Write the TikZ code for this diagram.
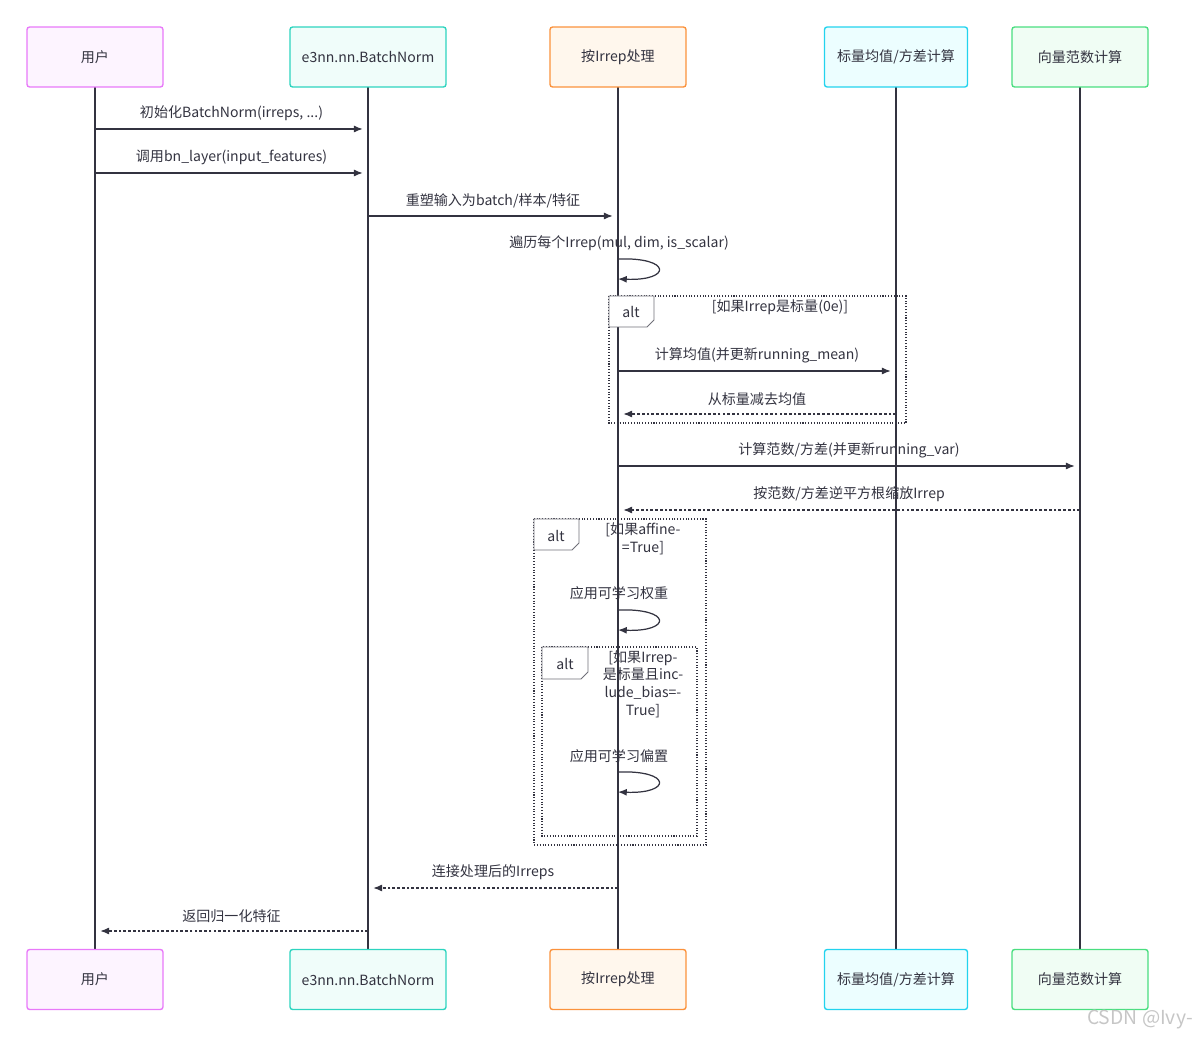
\documentclass[tikz,border=0pt]{standalone}
\usepackage{fontspec}
\setmainfont{Noto Sans CJK SC}
\usetikzlibrary{arrows.meta}
\definecolor{ink}{HTML}{333340}
\definecolor{uB}{HTML}{E879F9}\definecolor{uF}{HTML}{FDF4FF}
\definecolor{bnB}{HTML}{2DD4BF}\definecolor{bnF}{HTML}{F0FDFA}
\definecolor{irB}{HTML}{FB923C}\definecolor{irF}{HTML}{FFF7ED}
\definecolor{scB}{HTML}{22D3EE}\definecolor{scF}{HTML}{ECFEFF}
\definecolor{vcB}{HTML}{4ADE80}\definecolor{vcF}{HTML}{F0FDF4}
\begin{document}
\begin{tikzpicture}[x=0.02cm,y=-0.02cm,font=\fontsize{8}{10}\selectfont,
  actor/.style={draw=#1B,fill=#1F,line width=0.8pt,rounded corners=1.5pt,minimum height=1.2cm,text=ink},
  msg/.style={draw=ink,line width=0.7pt,-{Latex[length=5pt,width=4pt]}},
  reply/.style={msg,dash pattern=on 1.5pt off 1.2pt},
  lbl/.style={text=ink,anchor=base},
  frame/.style={draw=ink,densely dotted,line width=0.6pt},
  tab/.style={draw=ink!70,fill=white,line width=0.5pt}]

    \useasboundingbox (0,0) rectangle (1201,1040);

    % participants
    \foreach \name/\x/\w/\txt in {u/95/136/{用户}, bn/368/156/{e3nn.nn.BatchNorm},
        ir/618/136/{按Irrep处理}, sc/896/143/{标量均值/方差计算}, vc/1080/136/{向量范数计算}} {
      \draw[ink,line width=0.7pt] (\x,87) -- (\x,950);
      \node[actor=\name,minimum width=\w*0.02cm] (\name-top) at (\x,57) {\txt};
      \node[actor=\name,minimum width=\w*0.02cm] (\name-bot) at (\x,979.5) {\txt};
      \coordinate (\name) at (\x,0);
    }

    % frames
    \draw[frame] (609,296) rectangle (906,423);
    \draw[tab] (609,296) -- (654,296) -- (654,320) -- (647,327) -- (609,327) -- cycle;
    \node[text=ink] at (631,312) {alt};
    \node[text=ink] at (780,307) {[如果Irrep是标量(0e)]};

    \draw[frame] (534,519) rectangle (706,845);
    \draw[tab] (534,519) -- (579,519) -- (579,543) -- (572,550) -- (534,550) -- cycle;
    \node[text=ink] at (556,536) {alt};
    \node[text=ink,align=center] at (643,539) {[如果affine-\\=True]};

    \draw[frame] (542,647) rectangle (697,836);
    \draw[tab] (542,647) -- (588,647) -- (588,672) -- (581,679) -- (542,679) -- cycle;
    \node[text=ink] at (565,664) {alt};
    \node[text=ink,align=center] at (643,684) {[如果Irrep-\\是标量且inc-\\lude\_bias=-\\True]};

    % messages
    \foreach \a/\b/\y/\st/\txt in {u/bn/129/msg/{初始化BatchNorm(irreps, ...)},
        u/bn/173/msg/{调用bn\_layer(input\_features)},
        bn/ir/216/msg/{重塑输入为batch/样本/特征},
        ir/sc/371/msg/{计算均值(并更新running\_mean)},
        sc/ir/414/reply/{从标量减去均值},
        ir/vc/466/msg/{计算范数/方差(并更新running\_var)},
        vc/ir/510/reply/{按范数/方差逆平方根缩放Irrep},
        ir/bn/888/reply/{连接处理后的Irreps},
        bn/u/931/reply/{返回归一化特征}} {
      \coordinate (s) at (\a |- 0,\y);
      \coordinate (t) at (\b |- 0,\y);
      \draw[\st,shorten >=3pt] (s) -- (t);
      \path (s) -- node[lbl,above=1pt] {\txt} (t);
    }

    % self calls
    \foreach \y/\txt in {259/{遍历每个Irrep(mul, dim, is\_scalar)}, 610/{应用可学习权重}, 772/{应用可学习偏置}} {
      \coordinate (s) at (ir |- 0,\y);
      \coordinate (t) at (ir |- 0,\y+20);
      \draw[msg] (s) .. controls (672,\y-2) and (672,\y+22) .. (t);
      \node[lbl] at (619,\y-11) {\txt};
    }

    \node[text=gray!45,font=\fontsize{11}{13}\selectfont,anchor=east] at (1199,1020) {CSDN @Ivy-};

  \end{tikzpicture}
\end{document}
